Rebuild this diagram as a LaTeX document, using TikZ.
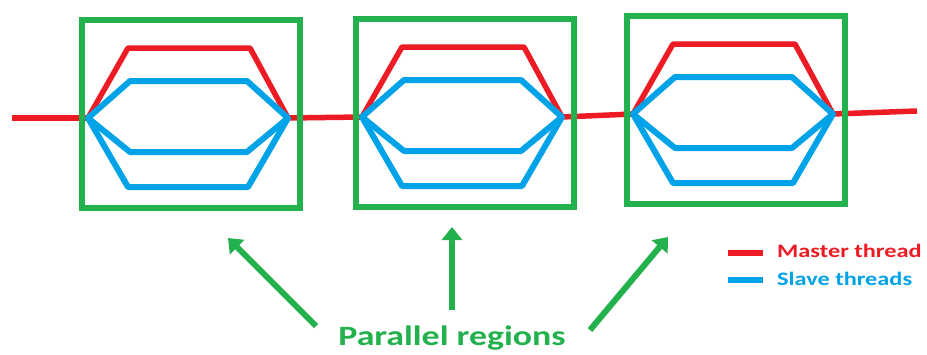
\documentclass[tikz,border=0pt]{standalone}
\usepackage{fontspec}
\usepackage{graphicx}
\setmainfont{Carlito}
\usetikzlibrary{arrows.meta}
\definecolor{pred}{RGB}{237,28,36}
\definecolor{pblue}{RGB}{0,162,232}
\definecolor{pgreen}{RGB}{34,177,76}
\tikzset{
  redth/.style={draw=pred, line width=5.5pt, line join=round},
  blueth/.style={draw=pblue, line width=6pt, line join=round},
  boxst/.style={draw=pgreen, line width=6pt},
  parrow/.style={draw=pgreen, line width=6pt, -{Triangle[width=20pt,length=13pt]}},
  ptext/.style={text=pgreen, inner sep=0pt, font=\fontsize{28}{30}\selectfont\bfseries},
  legtext/.style={inner sep=0pt, anchor=base west, font=\fontsize{19}{21}\selectfont\bfseries},
  region/.pic={
    \coordinate (-L) at (0,0);
    \coordinate (-R) at (200,0);
    \draw[redth] (-L) -- (40,-70) -- (162,-70) -- (-R);
    \draw[blueth] (-L) -- (42,-37) -- (159,-37) -- (-R) -- (159,34) -- (42,34) -- cycle;
    \draw[blueth] (-L) -- (40,69) -- (160,69) -- (-R);
    \draw[boxst] (-6,-98) rectangle (212,90);
  }
}
\begin{document}
\begin{tikzpicture}[x=1pt,y=-1pt]
\useasboundingbox[fill=white] (0,0) rectangle (927,354);
% main master thread
\coordinate (start) at (12,118);
\coordinate (finish) at (917,111);
\coordinate (j1) at (88,118);
\coordinate (j2) at (362,117);
\coordinate (j3) at (633,114);
\draw[redth] (start) -- (j1);
\draw[redth] (j1) ++(200,0) -- (j2);
\draw[redth] (j2) ++(200,0) -- (j3);
\draw[redth] (j3) ++(200,0) -- (finish);
\pic (b1) at (j1) {region};
\pic (b2) at (j2) {region};
\pic (b3) at (j3) {region};
% label and arrows
\node[ptext, anchor=base] (plabel) at (452,345) {\scalebox{1.28}[1]{Parallel regions}};
\coordinate (a1s) at (316,326);
\coordinate (a1e) at (228,238);
\coordinate (a2s) at (452,310);
\coordinate (a2e) at (452,227);
\coordinate (a3s) at (590,330);
\coordinate (a3e) at (668,237);
\draw[parrow] (a1s) -- (a1e);
\draw[parrow] (a2s) -- (a2e);
\draw[parrow] (a3s) -- (a3e);
% legend
\coordinate (lr1) at (728,253);
\coordinate (lr2) at (763,253);
\coordinate (lb1) at (728,280);
\coordinate (lb2) at (763,280);
\draw[draw=pred, line width=6pt] (lr1) -- (lr2);
\draw[draw=pblue, line width=6pt] (lb1) -- (lb2);
\node[legtext, text=pred] (lmaster) at (777,257) {\scalebox{1.28}[1]{Master thread}};
\node[legtext, text=pblue] (lslave) at (777,285) {\scalebox{1.28}[1]{Slave threads}};
\end{tikzpicture}
\end{document}
